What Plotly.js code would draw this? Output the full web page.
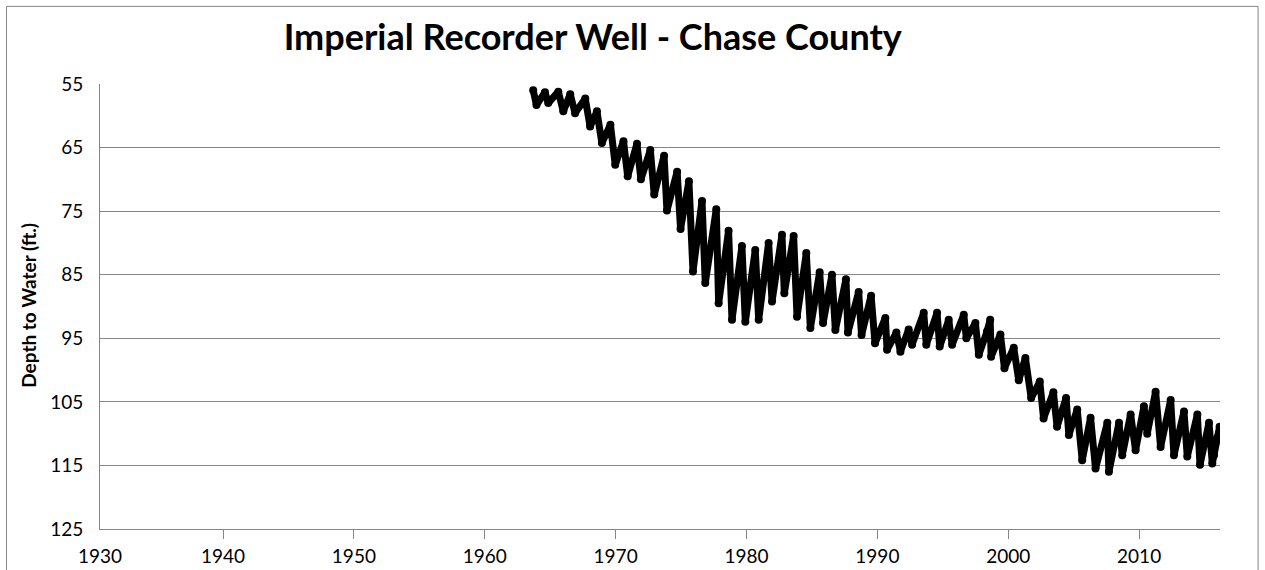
<!DOCTYPE html>
<html>
<head>
<meta charset="utf-8">
<script src="https://cdn.plot.ly/plotly-3.0.1.min.js"></script>
<style>
  html, body { margin: 0; padding: 0; background: #fff; }
  #chart { width: 1265px; height: 570px; }
</style>
</head>
<body>
<div id="chart"></div>
<script>
// Seasonal high (shallowest) readings: decimal year, depth to water (ft)
const peakYear = [1963.70, 1964.60, 1965.62, 1966.53, 1967.68, 1968.57, 1969.60, 1970.60, 1971.63, 1972.65,
  1973.70, 1974.70, 1975.60, 1976.60, 1977.69, 1978.63, 1979.65, 1980.67, 1981.69, 1982.71,
  1983.60, 1984.57, 1985.59, 1986.53, 1987.60, 1988.57, 1989.52, 1990.61, 1991.45, 1992.39,
  1993.54, 1994.56, 1995.45, 1996.60, 1997.49, 1998.38, 1999.40, 2000.42, 2001.31, 2002.41,
  2003.45, 2004.42, 2005.27, 2006.29, 2007.57, 2008.46, 2009.35, 2010.37, 2011.26, 2012.41,
  2013.43, 2014.45, 2015.34];
const peakDepth = [56.0, 56.3, 56.2, 56.6, 57.3, 59.3, 61.4, 64.0, 64.4, 65.4,
  66.3, 68.8, 70.3, 73.4, 74.7, 78.1, 80.5, 81.1, 80.0, 78.7,
  78.9, 81.6, 84.6, 85.0, 85.7, 87.7, 88.3, 91.8, 94.1, 93.6,
  91.0, 91.0, 92.1, 91.3, 92.6, 93.9, 94.4, 96.5, 98.1, 101.8,
  103.5, 104.4, 106.2, 107.5, 108.3, 108.3, 107.0, 105.7, 103.4, 104.7,
  106.5, 107.0, 108.3];

// Seasonal low (deepest) readings
const troughYear = [1963.95, 1964.85, 1966.00, 1966.90, 1968.05, 1968.95, 1969.97, 1970.92, 1971.93, 1972.95,
  1973.92, 1974.96, 1975.91, 1976.85, 1977.87, 1978.89, 1979.91, 1980.93, 1981.95, 1982.89,
  1983.86, 1984.88, 1985.85, 1986.79, 1987.75, 1988.79, 1989.82, 1990.74, 1991.76, 1992.65,
  1993.74, 1994.76, 1995.71, 1996.80, 1997.75, 1998.69, 1999.71, 2000.80, 2001.75, 2002.70,
  2003.73, 2004.63, 2005.65, 2006.67, 2007.69, 2008.71, 2009.73, 2010.62, 2011.64, 2012.66,
  2013.68, 2014.65, 2015.59];
const troughDepth = [58.3, 58.0, 59.3, 59.6, 61.7, 64.3, 67.7, 69.5, 70.0, 72.4,
  74.9, 77.8, 84.5, 86.3, 89.5, 92.1, 92.4, 92.1, 89.2, 87.9,
  91.6, 93.4, 92.6, 93.7, 94.1, 94.5, 95.8, 96.8, 97.1, 96.0,
  96.0, 96.3, 96.0, 95.0, 97.6, 97.9, 99.7, 101.6, 104.4, 107.6,
  108.9, 110.2, 114.2, 115.5, 116.0, 113.4, 112.6, 110.0, 112.1, 113.4,
  113.6, 114.9, 114.7];

// Isolated manual readings
const extraYear = [1998.62, 2015.72, 2015.97, 2016.15];
const extraDepth = [92.1, 113.4, 110.7, 108.9];

// Axis ticks
const yTicks = [55, 65, 75, 85, 95, 105, 115, 125];
const xTickYears = [1940, 1950, 1960, 1970, 1980, 1990, 2000, 2010];
const xStart = 1930.6, xEnd = 2016.18;

const pts = [];
peakYear.forEach((t, i) => pts.push([t, peakDepth[i]]));
troughYear.forEach((t, i) => pts.push([t, troughDepth[i]]));
extraYear.forEach((t, i) => pts.push([t, extraDepth[i]]));
pts.sort((a, b) => a[0] - b[0]);

const trace = {
  type: 'scatter',
  mode: 'lines+markers',
  x: pts.map(p => p[0]),
  y: pts.map(p => p[1]),
  line: { color: '#000', width: 7 },
  marker: { color: '#000', size: 8 },
  hoverinfo: 'x+y',
  showlegend: false
};

const gray = '#868686';
const tickFont = { family: 'Lato, "Open Sans", sans-serif', size: 19, color: '#000' };

const layout = {
  width: 1265, height: 570,
  margin: { l: 100, r: 45, t: 84, b: 41 },
  paper_bgcolor: '#fff', plot_bgcolor: '#fff',
  title: {
    text: 'Imperial Recorder Well - Chase County',
    font: { family: 'Lato, "Open Sans", sans-serif', size: 36, color: '#000', weight: 700 },
    xref: 'paper', x: 0.44, xanchor: 'center',
    yref: 'container', y: 0.935, yanchor: 'middle'
  },
  xaxis: {
    range: [xStart, xEnd],
    tickmode: 'array',
    tickvals: [xStart].concat(xTickYears),
    ticktext: ['1930'].concat(xTickYears.map(String)),
    ticks: '',
    showgrid: false, zeroline: false,
    showline: true, linecolor: gray, linewidth: 1,
    tickfont: tickFont,
    ticklabelstandoff: 10,
    minor: {
      tickmode: 'array', tickvals: xTickYears,
      ticks: 'outside', ticklen: 9, tickwidth: 1, tickcolor: gray,
      showgrid: false
    }
  },
  yaxis: {
    range: [125, 55],
    tickmode: 'array', tickvals: yTicks,
    ticks: '',
    showgrid: true, gridcolor: gray, gridwidth: 1,
    zeroline: false,
    showline: true, linecolor: gray, linewidth: 1,
    tickfont: tickFont,
    ticklabelstandoff: 12
  },
  annotations: [{
    text: 'Depth to Water (ft.)',
    textangle: -90,
    xref: 'paper', yref: 'paper',
    x: -0.0634, y: 0.504,
    xanchor: 'center', yanchor: 'middle',
    showarrow: false,
    font: { family: 'Lato, "Open Sans", sans-serif', size: 19, color: '#000', weight: 700 }
  }],
  shapes: [{
    type: 'rect', xref: 'paper', yref: 'paper',
    x0: -0.0835, x1: 1.034, y0: -0.11, y1: 1.1744,
    line: { color: gray, width: 1 }, layer: 'below'
  }]
};

Plotly.newPlot('chart', [trace], layout, { displayModeBar: false, staticPlot: true });
</script>
</body>
</html>
